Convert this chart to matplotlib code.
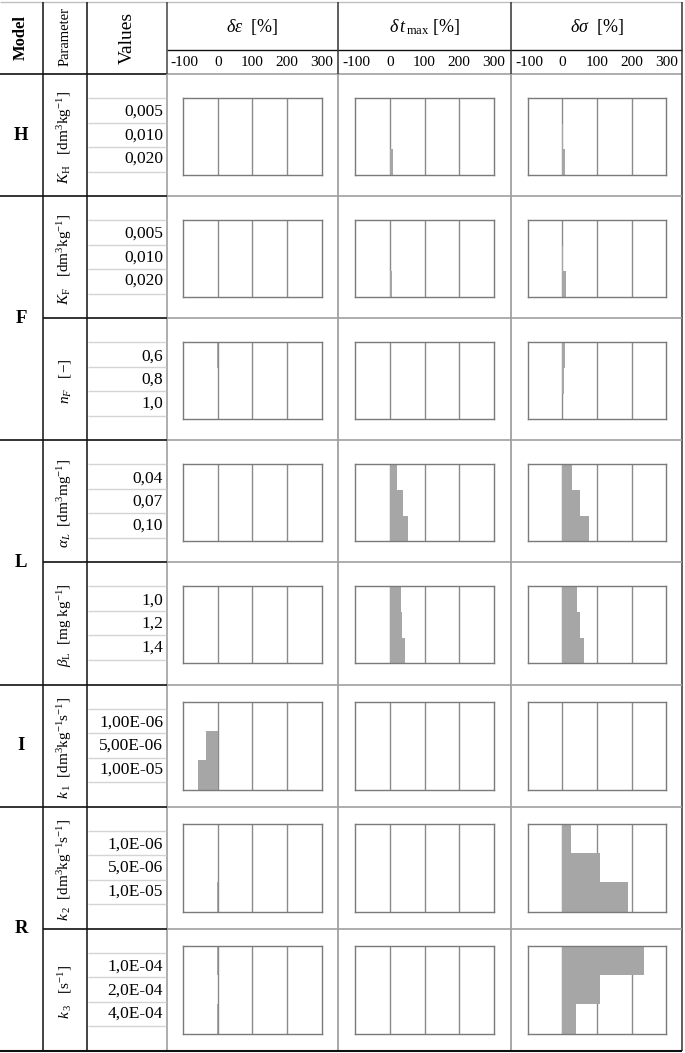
import matplotlib
matplotlib.use("Agg")
import matplotlib.pyplot as plt
from matplotlib import transforms

plt.rcParams['font.family'] = ['Liberation Serif', 'DejaVu Serif']
plt.rcParams['mathtext.fontset'] = 'custom'
plt.rcParams['mathtext.rm'] = 'Liberation Serif'
plt.rcParams['mathtext.it'] = 'Liberation Serif:italic'
plt.rcParams['mathtext.bf'] = 'Liberation Serif:bold'

# ---------------- data ----------------
models = ["H", "F", "L", "I", "R"]
model_rows = [1, 2, 2, 1, 2]          # parameter rows per model

param_labels = [
    r"$K_{\mathrm{H}}$   [dm$^3$kg$^{-1}$]",
    r"$K_{\mathrm{F}}$   [dm$^3$kg$^{-1}$]",
    r"$n_{F}$   [$-$]",
    r"$\alpha_{L}$  [dm$^3$mg$^{-1}$]",
    r"$\beta_{\mathrm{L}}$  [mg kg$^{-1}$]",
    r"$k_{\,1}$  [dm$^3$kg$^{-1}$s$^{-1}$]",
    r"$k_{\,2}$  [dm$^3$kg$^{-1}$s$^{-1}$]",
    r"$k_{\,3}$   [s$^{-1}$]",
]

value_labels = [
    ["0,005", "0,010", "0,020"],
    ["0,005", "0,010", "0,020"],
    ["0,6", "0,8", "1,0"],
    ["0,04", "0,07", "0,10"],
    ["1,0", "1,2", "1,4"],
    ["1,00E-06", "5,00E-06", "1,00E-05"],
    ["1,0E-06", "5,0E-06", "1,0E-05"],
    ["1,0E-04", "2,0E-04", "4,0E-04"],
]

d_eps = [
    [0, 0, 0],
    [0, 0, 0],
    [-2, 0, 0],
    [0, 0, 0],
    [0, 0, 0],
    [0, -33, -57],
    [0, 0, -2],
    [-2, 0, -2],
]
d_tmax = [
    [0, 2, 8],
    [0, 0, 7],
    [0, 2, 2],
    [22, 37, 52],
    [31, 36, 45],
    [0, 0, 0],
    [0, 0, 0],
    [0, 0, 0],
]
d_sigma = [
    [0, 2, 7],
    [0, 3, 10],
    [8, 4, 0],
    [29, 52, 76],
    [42, 51, 62],
    [0, 0, 0],
    [24, 109, 189],
    [235, 109, 39],
]
series = [d_eps, d_tmax, d_sigma]

col_titles = [r"$\delta\varepsilon$  [%]", r"$\delta\,t_{\,\mathrm{max}}$ [%]", r"$\delta\sigma$  [%]"]
tick_values = [-100, 0, 100, 200, 300]
tick_labels = ["-100", "0", "100", "200", "300"]

# ---------------- layout (pixels) ----------------
W, H = 685, 1053
fig = plt.figure(figsize=(6.85, 10.53), dpi=100)
fig.patch.set_facecolor("white")
bg = fig.add_axes([0, 0, 1, 1])
bg.set_xlim(0, W)
bg.set_ylim(H, 0)
bg.axis("off")


def rect(x0, y0, x1, y1):
    return [x0 / W, 1 - y1 / H, (x1 - x0) / W, (y1 - y0) / H]


def hline(y, x0, x1, c, lw):
    bg.plot([x0, x1], [y, y], color=c, lw=lw, solid_capstyle="butt", zorder=3)


def vline(x, y0, y1, c, lw):
    bg.plot([x, x], [y0, y1], color=c, lw=lw, solid_capstyle="butt", zorder=3)


BLACK = "#111111"
GRID = "#a0a0a0"
HEAD_BOT = 74
ROW_H = 122.1
TOP = 2
BOTTOM = 1051
x_model, x_param, x_vals = 43, 87, 167
col_edges = [167, 338, 511.5, 682]
box_x = [(183.3, 321.7), (355.0, 494.0), (527.7, 666.3)]
n_rows = len(param_labels)
row_tops = [HEAD_BOT + ROW_H * i for i in range(n_rows)]

# ---------------- header ----------------
bg.text(21, 38, "Model", rotation=90, ha="center", va="center", fontsize=12, fontweight="bold")
bg.text(65, 36, "Parameter", rotation=90, ha="center", va="center", fontsize=10.5)
bg.text(127, 38, "Values", rotation=90, ha="center", va="center", fontsize=14)
for c in range(3):
    cx = (col_edges[c] + col_edges[c + 1]) / 2
    bg.text(cx, 27, col_titles[c], ha="center", va="center", fontsize=13)
    hx = fig.add_axes(rect(box_x[c][0], 50, box_x[c][1], HEAD_BOT))
    hx.set_xlim(-100, 300)
    hx.set_ylim(0, 1)
    hx.axis("off")
    tr = transforms.blended_transform_factory(hx.transData, hx.transAxes)
    for v, lab in zip(tick_values, tick_labels):
        hx.text(v + (4 if v == -100 else 0), 0.5, lab, ha="center", va="center",
                fontsize=11, transform=tr)

# ---------------- grid lines of the table ----------------
hline(TOP, 0, 682, "#c0c0c0", 1.0)
hline(50, x_vals, 682, BLACK, 1.0)
hline(HEAD_BOT, 0, x_vals, BLACK, 1.2)
hline(HEAD_BOT, x_vals, 682, GRID, 1.2)
vline(x_model, TOP, BOTTOM, BLACK, 1.1)
vline(x_param, TOP, BOTTOM, BLACK, 1.1)
vline(x_vals, TOP, HEAD_BOT, "#444444", 1.1)
vline(x_vals, HEAD_BOT, BOTTOM, GRID, 1.2)
for xe in col_edges[1:3]:
    vline(xe, TOP, HEAD_BOT, "#333333", 1.1)
    vline(xe, HEAD_BOT, BOTTOM, GRID, 1.3)
vline(col_edges[3], TOP, BOTTOM, "#333333", 1.1)

group_starts = []
acc = 0
for m in model_rows:
    group_starts.append(acc)
    acc += m

for i in range(1, n_rows):
    y = row_tops[i]
    x_start = 0 if i in group_starts else x_model
    hline(y, x_start, x_vals, BLACK, 1.2)
    hline(y, x_vals, 682, GRID, 1.2)
hline(BOTTOM, 0, 682, BLACK, 1.5)

# model letters
for g, (m, n) in enumerate(zip(models, model_rows)):
    y0 = row_tops[group_starts[g]]
    y1 = y0 + ROW_H * n
    bg.text(21, (y0 + y1) / 2, m, ha="center", va="center", fontsize=13.5, fontweight="bold")

# ---------------- rows ----------------
for r in range(n_rows):
    top = row_tops[r]
    # parameter label
    bg.text(65, top + ROW_H / 2 + 2, param_labels[r], rotation=90, ha="center",
            va="center", fontsize=11)
    # values cells
    for off in [24, 48.5, 73, 97.5]:
        hline(top + off, x_param + 1, x_vals - 1, "#d4d4d4", 1.0)
    for k in range(3):
        bg.text(163, top + 38 + 23.5 * k, value_labels[r][k], ha="right", va="center",
                fontsize=12.5)
    # chart panels
    if r < 5:
        y0, y1 = top + 24, top + 101
    else:
        y0, y1 = top + 17, top + 105
    for c in range(3):
        ax = fig.add_axes(rect(box_x[c][0], y0, box_x[c][1], y1))
        vals = series[c][r]
        ax.barh([0, 1, 2], vals, height=1.0, left=0, color="#a6a6a6", edgecolor="none", zorder=2)
        ax.set_xlim(-100, 300)
        ax.set_ylim(2.5, -0.5)
        ax.set_xticks([0, 100, 200])
        ax.set_yticks([])
        ax.tick_params(length=0, labelbottom=False)
        ax.grid(axis="x", color="#8a8a8a", lw=1.0)
        ax.set_axisbelow(True)
        for sp in ax.spines.values():
            sp.set_color("#7a7a7a")
            sp.set_linewidth(1.0)

fig.savefig("out.png", dpi=100, facecolor="white")
